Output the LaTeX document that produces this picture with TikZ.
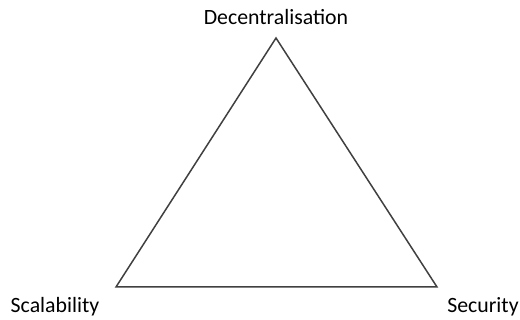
\documentclass[tikz,border=0pt]{standalone}
\usepackage{fontspec}
\setmainfont{Carlito}
\usetikzlibrary{positioning}

\begin{document}
\begin{tikzpicture}[
    x=0.5pt, y=-0.5pt,
    corner/.style={inner sep=0pt, font=\fontsize{10.9}{13}\selectfont},
    side/.style={draw=black!75, line width=0.75pt, line join=miter}
]
\useasboundingbox (0,0) rectangle (520,320);

\coordinate (top) at (276, 38);
\coordinate (left) at (116, 287);
\coordinate (right) at (437, 287);

\node[corner, anchor=base] (decent) at (276, 25) {Decentralisation};
\node[corner, anchor=base] (scal) at (55, 313) {Scalability};
\node[corner, anchor=base] (secur) at (483, 313) {Security};

\draw[side] (top) -- (left) -- (right) -- cycle;

\end{tikzpicture}
\end{document}
